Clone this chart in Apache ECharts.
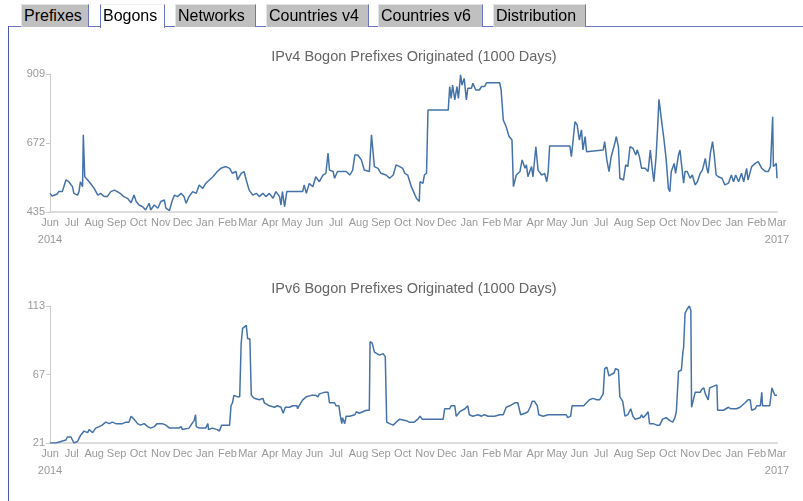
<!DOCTYPE html>
<html>
<head>
<meta charset="utf-8">
<title>Bogons</title>
<script src="https://cdn.jsdelivr.net/npm/echarts@6/dist/echarts.min.js"></script>
<style>
  html, body { margin: 0; padding: 0; background: #fff; }
  #page { position: relative; width: 803px; height: 501px; overflow: hidden; font-family: "Liberation Sans", Arial, sans-serif; }
  #chart { position: absolute; left: 0; top: 0; width: 803px; height: 501px; }
  .tab { position: absolute; top: 4px; height: 23px; box-sizing: border-box; font-size: 16px; line-height: 22px;
         padding-left: 2px; color: #000; background: #c0c0c0; white-space: nowrap;
         border-left: 1px solid #e4e4e4; border-top: 1px solid #e4e4e4; border-right: 1px solid #6b74c4; }
  .tab.active { background: #fff; height: 24px; border-left: 1px solid #6b74c4; border-top: 1px solid #f0f0f0; }
  .frame-top { position: absolute; top: 26px; height: 1px; background: #6b77c4; }
  .frame-left { position: absolute; left: 8px; top: 26px; width: 1px; bottom: 0; background: #4a56b8; }
</style>
</head>
<body>
<div id="page">
  <div id="chart"></div>
  <div class="frame-top" style="left:8px; width:92px;"></div>
  <div class="frame-top" style="left:164px; width:639px;"></div>
  <div class="frame-left"></div>
  <div id="tabs"></div>
</div>
<script>
// Tab strip
const tabNames = ['Prefixes', 'Bogons', 'Networks', 'Countries v4', 'Countries v6', 'Distribution'];
const tabActive = 'Bogons';
const tabBox = [[21, 68], [100, 65], [175, 81], [266, 103], [378, 105], [493, 93]];

// Day numbers counted from 2014-06-01 (UTC)
const startDate = '2014-06-01';
const endDate = '2017-03-01';

// IPv4 bogon prefixes originated
const ipv4Day = [0,3,10,12,17,22,26,31,33,38,40,42,45,46,48,52,56,61,66,70,75,79,84,89,93,98,102,107,112,116,119,123,128,132,137,139,144,149,153,158,160,165,169,172,176,181,185,188,192,197,202,206,211,215,220,225,231,236,243,248,252,257,259,264,268,271,275,280,285,289,294,298,303,308,312,317,319,321,324,327,349,351,354,358,363,367,372,377,381,384,386,391,393,397,409,414,418,421,425,430,434,441,444,446,448,453,457,464,469,474,478,483,487,490,494,499,501,506,510,511,515,517,520,522,550,552,554,556,559,562,564,567,569,572,575,577,582,584,588,593,596,600,603,621,623,626,630,634,638,640,644,649,652,656,658,660,665,667,671,674,679,683,686,688,690,718,720,722,725,728,731,734,736,739,741,764,766,769,772,775,780,782,785,787,792,795,798,801,805,809,811,814,817,822,826,829,832,834,837,839,841,845,848,851,854,856,858,862,864,868,870,872,875,877,880,884,887,891,894,898,901,905,907,909,912,915,917,920,923,928,932,937,941,944,947,951,955,958,962,964,969,974,978,983,988,992,995,998,999,1003,1004];
const ipv4Count = [499,490,497,505,505,545,539,522,499,493,505,539,522,700,556,545,533,516,493,499,488,488,505,510,505,497,488,482,467,493,471,459,453,442,465,442,459,448,471,476,448,440,476,493,488,499,488,465,488,505,499,528,516,533,545,556,574,585,591,585,568,574,545,568,574,545,510,493,499,488,499,488,499,482,505,488,459,505,453,505,505,528,499,533,522,556,539,562,568,637,579,574,551,574,574,562,579,631,631,614,579,574,700,700,591,585,568,562,551,562,597,591,585,568,562,522,516,482,471,539,533,562,568,785,785,866,825,871,820,866,825,906,871,894,820,860,860,877,854,854,866,866,879,879,854,751,728,694,682,522,562,574,614,585,597,556,591,556,659,579,562,568,539,574,662,662,625,671,745,734,682,717,648,694,642,648,677,614,574,625,671,694,659,551,545,597,591,659,654,631,648,625,585,585,574,648,579,539,625,717,822,740,682,614,516,505,574,602,568,631,648,602,534,574,574,551,562,528,539,568,579,619,585,568,637,677,637,562,556,551,528,534,562,539,562,539,568,539,585,545,591,602,608,585,574,574,591,762,591,602,551];

// IPv6 bogon prefixes originated
const ipv6Day = [0,8,10,15,17,22,24,29,31,33,38,42,47,52,54,59,63,68,72,77,82,86,91,100,105,109,112,116,121,125,130,135,139,144,148,155,160,165,178,181,183,192,196,199,201,202,206,215,218,219,224,231,234,237,248,250,252,254,259,262,264,266,271,273,274,276,278,282,289,294,296,303,310,314,319,322,325,331,335,341,342,344,349,354,361,367,370,372,379,384,386,393,395,399,401,403,404,407,409,414,416,421,423,427,432,437,441,442,445,448,455,460,463,465,469,474,478,483,492,496,503,508,511,514,543,545,552,554,559,561,566,573,577,579,584,591,596,600,605,614,616,621,626,630,635,642,646,650,656,660,663,666,669,673,675,681,688,713,715,719,721,727,737,741,745,750,755,759,764,766,769,772,775,779,781,785,787,791,794,798,802,805,808,815,817,819,823,826,828,833,838,842,846,851,856,860,863,865,868,872,874,875,877,880,883,885,886,888,891,898,900,903,905,907,909,911,916,921,922,930,937,940,944,948,953,960,964,967,969,974,976,981,983,984,990,994,997,999,1001,1004];
const ipv6Count = [21,21,22,22,23,23,25,25,23,21,22,26,29,28,30,28,31,32,33,35,34,35,34,34,35,35,39,37,34,33,34,32,31,32,34,34,33,31,31,32,30,31,34,36,40,32,31,31,34,30,31,30,29,33,33,46,48,53,52,52,88,98,100,91,92,91,53,51,50,51,48,46,45,46,45,41,45,45,46,46,44,46,50,52,53,53,52,54,55,55,48,48,46,46,39,34,38,34,39,39,40,40,42,41,42,43,43,89,88,82,80,81,79,35,34,33,35,37,36,35,35,37,39,37,37,44,44,46,46,39,42,44,46,40,39,40,39,40,39,39,38,40,40,45,46,48,48,40,41,42,45,49,49,46,40,39,40,40,38,39,46,46,46,48,50,51,50,50,54,71,72,66,67,68,71,70,52,49,39,40,44,39,37,38,40,38,40,42,34,34,33,33,37,38,36,35,38,42,69,70,82,85,108,111,113,110,45,45,55,55,57,58,54,55,50,58,59,60,43,43,45,44,44,44,45,48,50,50,43,44,46,46,55,46,46,46,58,57,53,53];

// Axis tick labels
const ipv4Ticks = [435, 672, 909];
const ipv6Ticks = [21, 67, 113];
const monthNames = ['Jan','Feb','Mar','Apr','May','Jun','Jul','Aug','Sep','Oct','Nov','Dec'];
const chartTitles = ['IPv4 Bogon Prefixes Originated (1000 Days)', 'IPv6 Bogon Prefixes Originated (1000 Days)'];

// ---- build tabs ----
const tabsEl = document.getElementById('tabs');
tabNames.forEach((name, i) => {
  const d = document.createElement('div');
  d.className = 'tab' + (name === tabActive ? ' active' : '');
  d.style.left = tabBox[i][0] + 'px';
  d.style.width = tabBox[i][1] + 'px';
  d.textContent = name;
  tabsEl.appendChild(d);
});

// ---- chart ----
const DAY = 86400000;
const t0 = Date.parse(startDate + 'T00:00:00Z');
const t1 = Date.parse(endDate + 'T00:00:00Z');

// month boundaries used as x tick positions
const monthStarts = [];
for (let y = 2014; y <= 2017; y++) {
  for (let m = 0; m < 12; m++) {
    const t = Date.UTC(y, m, 1);
    if (t >= t0 && t <= t1) monthStarts.push(t);
  }
}

function toPoints(days, counts) {
  return days.map((d, i) => [t0 + d * DAY, counts[i]]);
}

function monthLabel(val) {
  return monthNames[new Date(val).getUTCMonth()];
}

const labelColor = '#999';
const fontFamily = '"Liberation Sans", Arial, sans-serif';

function xAxisFor(gridIndex) {
  return {
    type: 'value', gridIndex, min: t0, max: t1,
    axisLine: { show: true, lineStyle: { color: '#dcdcdc', width: 2 } },
    axisTick: { show: false },
    splitLine: { show: false },
    axisLabel: {
      customValues: monthStarts, formatter: monthLabel, hideOverlap: false,
      color: labelColor, fontSize: 11, fontFamily, margin: 5,
      showMinLabel: true, showMaxLabel: true
    }
  };
}

function yAxisFor(gridIndex, ticks) {
  return {
    type: 'value', gridIndex, min: ticks[0], max: ticks[ticks.length - 1],
    axisLine: { show: true, lineStyle: { color: '#cccccc', width: 1 } },
    axisTick: { show: true, length: 4, customValues: ticks, lineStyle: { color: '#cccccc' } },
    splitLine: { show: false },
    axisLabel: { customValues: ticks, color: labelColor, fontSize: 11, fontFamily, margin: 5 }
  };
}

const lineColor = '#4573a9';

const chart = echarts.init(document.getElementById('chart'), null, { renderer: 'canvas' });
chart.setOption({
  animation: false,
  title: chartTitles.map((txt, i) => ({
    text: txt, left: 414, top: i === 0 ? 49 : 281, textAlign: 'center', padding: 0,
    textStyle: { fontSize: 14.5, fontWeight: 'normal', color: '#666', fontFamily }
  })),
  grid: [
    { left: 50, right: 26, top: 74, height: 138 },
    { left: 50, right: 26, top: 306, height: 137 }
  ],
  xAxis: [xAxisFor(0), xAxisFor(1)],
  yAxis: [yAxisFor(0, ipv4Ticks), yAxisFor(1, ipv6Ticks)],
  series: [
    { name: 'IPv4', type: 'line', xAxisIndex: 0, yAxisIndex: 0, data: toPoints(ipv4Day, ipv4Count),
      showSymbol: false, lineStyle: { color: lineColor, width: 1.5 } },
    { name: 'IPv6', type: 'line', xAxisIndex: 1, yAxisIndex: 1, data: toPoints(ipv6Day, ipv6Count),
      showSymbol: false, lineStyle: { color: lineColor, width: 1.5 } }
  ]
});

// year captions under the first and last month of each axis
const yearMarks = [monthStarts[0], monthStarts[monthStarts.length - 1]];
const yearTexts = [];
[0, 1].forEach((axisIdx) => {
  const baseY = chart.convertToPixel({ yAxisIndex: axisIdx }, axisIdx === 0 ? ipv4Ticks[0] : ipv6Ticks[0]);
  yearMarks.forEach((t) => {
    const x = chart.convertToPixel({ xAxisIndex: axisIdx }, t);
    yearTexts.push({
      type: 'text', x: x, y: baseY + 28, silent: true,
      style: { text: String(new Date(t).getUTCFullYear()), fill: labelColor, fontSize: 11, fontFamily,
               align: 'center', verticalAlign: 'middle' }
    });
  });
});
chart.setOption({ graphic: yearTexts });
</script>
</body>
</html>
